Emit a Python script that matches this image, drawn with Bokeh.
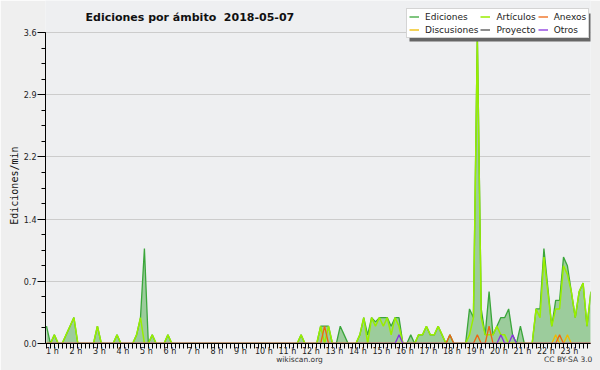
from bokeh.plotting import figure
from bokeh.models import (FixedTicker, Legend, LegendItem, Label, ColumnDataSource,
                          LinearAxis, BoxAnnotation, Title)
from bokeh.embed import file_html
from bokeh.resources import INLINE

# 10-minute bins starting at 01:00 (hours on the x axis)
horas = [1 + i / 6 for i in range(140)]

# one row per hour (6 bins of 10 min)
ediciones = [
    0.2, 0, 0.1, 0, 0, 0.1,          # 1 h
    0.2, 0.3, 0, 0, 0, 0,            # 2 h
    0, 0.2, 0, 0, 0, 0,              # 3 h
    0.1, 0, 0, 0, 0, 0.1,            # 4 h
    0.3, 1.1, 0, 0.1, 0, 0,          # 5 h
    0, 0.1, 0, 0, 0, 0,              # 6 h
    0, 0, 0, 0, 0, 0,                # 7 h
    0, 0, 0, 0, 0, 0,                # 8 h
    0, 0, 0, 0, 0, 0,                # 9 h
    0, 0, 0, 0, 0, 0,                # 10 h
    0, 0, 0, 0, 0, 0.1,              # 11 h
    0, 0, 0, 0, 0.2, 0.2,            # 12 h
    0.2, 0, 0, 0.2, 0.1, 0,          # 13 h
    0, 0, 0.1, 0.3, 0.1, 0.3,        # 14 h
    0.25, 0.3, 0.3, 0.3, 0.2, 0.3,   # 15 h
    0.3, 0, 0, 0.1, 0, 0.1,          # 16 h
    0.1, 0.2, 0.1, 0.1, 0.2, 0.1,    # 17 h
    0, 0.1, 0, 0, 0, 0,              # 18 h
    0.4, 0.3, 3.6, 0.4, 0.1, 0.6,    # 19 h
    0.1, 0.2, 0.3, 0.3, 0.4, 0.1,    # 20 h
    0, 0.2, 0, 0, 0, 0.4,            # 21 h
    0.4, 1.1, 0.65, 0.2, 0.5, 0.5,   # 22 h
    1.0, 0.9, 0.6, 0.3, 0.6, 0.7,    # 23 h
    0.2, 0.6,                        # 24 h
]
articulos = [
    0, 0, 0.1, 0, 0, 0.1,
    0.2, 0.3, 0, 0, 0, 0,
    0, 0.2, 0, 0, 0, 0,
    0.1, 0, 0, 0, 0, 0.1,
    0.3, 0, 0, 0.1, 0, 0,
    0, 0.1, 0, 0, 0, 0,
    0, 0, 0, 0, 0, 0,
    0, 0, 0, 0, 0, 0,
    0, 0, 0, 0, 0, 0,
    0, 0, 0, 0, 0, 0,
    0, 0, 0, 0, 0, 0.1,
    0, 0, 0, 0, 0.2, 0,
    0.2, 0, 0, 0, 0, 0,
    0, 0, 0.1, 0.3, 0, 0.3,
    0.2, 0.3, 0.2, 0.3, 0.1, 0.3,
    0.2, 0, 0, 0, 0, 0.1,
    0.1, 0.2, 0.1, 0.1, 0.2, 0.1,
    0, 0, 0, 0, 0, 0,
    0.1, 0.3, 3.5, 0.3, 0.1, 0.1,
    0.1, 0.2, 0.1, 0.1, 0, 0,
    0, 0, 0, 0, 0, 0.4,
    0.3, 1.0, 0.6, 0.2, 0.4, 0.4,
    0.9, 0.8, 0.6, 0.3, 0.6, 0.7,
    0.2, 0.6,
]
discusiones = [
    0, 0, 0, 0, 0, 0,
    0, 0, 0, 0, 0, 0,
    0, 0, 0, 0, 0, 0,
    0, 0, 0, 0, 0, 0,
    0, 0, 0, 0, 0, 0,
    0, 0, 0, 0, 0, 0,
    0, 0, 0, 0, 0, 0,
    0, 0, 0, 0, 0, 0,
    0, 0, 0, 0, 0, 0,
    0, 0, 0, 0, 0, 0,
    0, 0, 0, 0, 0, 0,
    0, 0, 0, 0, 0, 0,
    0, 0, 0, 0, 0, 0,
    0, 0, 0, 0, 0, 0,
    0, 0, 0, 0, 0, 0,
    0, 0, 0, 0, 0, 0,
    0, 0, 0, 0, 0, 0,
    0, 0, 0, 0, 0, 0,
    0, 0, 0, 0, 0, 0,
    0, 0, 0, 0, 0, 0,
    0, 0, 0, 0, 0, 0,
    0, 0, 0, 0, 0.1, 0,
    0, 0.1, 0, 0, 0, 0,
    0, 0,
]
anexos = [
    0, 0, 0, 0, 0, 0,
    0, 0, 0, 0, 0, 0,
    0, 0, 0, 0, 0, 0,
    0, 0, 0, 0, 0, 0,
    0, 0, 0, 0, 0, 0,
    0, 0, 0, 0, 0, 0,
    0, 0, 0, 0, 0, 0,
    0, 0, 0, 0, 0, 0,
    0, 0, 0, 0, 0, 0,
    0, 0, 0, 0, 0, 0,
    0, 0, 0, 0, 0, 0,
    0, 0, 0, 0, 0, 0.2,
    0, 0, 0, 0, 0, 0,
    0, 0, 0, 0, 0, 0,
    0, 0, 0, 0, 0, 0,
    0, 0, 0, 0, 0, 0,
    0, 0, 0, 0, 0, 0,
    0, 0.1, 0, 0, 0, 0,
    0, 0, 0.1, 0, 0, 0.2,
    0, 0, 0, 0, 0, 0,
    0, 0, 0, 0, 0, 0,
    0, 0, 0, 0, 0, 0.1,
    0, 0, 0, 0, 0, 0,
    0, 0,
]
proyecto = [
    0, 0, 0, 0, 0, 0,
    0, 0, 0, 0, 0, 0,
    0, 0, 0, 0, 0, 0,
    0, 0, 0, 0, 0, 0,
    0, 0, 0, 0, 0, 0,
    0, 0, 0, 0, 0, 0,
    0, 0, 0, 0, 0, 0,
    0, 0, 0, 0, 0, 0,
    0, 0, 0, 0, 0, 0,
    0, 0, 0, 0, 0, 0,
    0, 0, 0, 0, 0, 0,
    0, 0, 0, 0, 0, 0,
    0, 0, 0, 0, 0, 0,
    0, 0, 0, 0, 0, 0,
    0, 0, 0, 0, 0, 0,
    0, 0, 0, 0, 0, 0,
    0, 0, 0, 0, 0, 0,
    0, 0, 0, 0, 0, 0,
    0, 0, 0, 0, 0, 0,
    0, 0, 0, 0, 0, 0,
    0, 0, 0, 0, 0, 0,
    0, 0, 0, 0, 0, 0,
    0, 0, 0, 0, 0, 0,
    0, 0,
]
otros = [
    0, 0, 0, 0, 0, 0,
    0, 0, 0, 0, 0, 0,
    0, 0, 0, 0, 0, 0,
    0, 0, 0, 0, 0, 0,
    0, 0, 0, 0, 0, 0,
    0, 0, 0, 0, 0, 0,
    0, 0, 0, 0, 0, 0,
    0, 0, 0, 0, 0, 0,
    0, 0, 0, 0, 0, 0,
    0, 0, 0, 0, 0, 0,
    0, 0, 0, 0, 0, 0,
    0, 0, 0, 0, 0, 0,
    0, 0, 0, 0, 0, 0,
    0, 0, 0, 0, 0, 0,
    0, 0, 0, 0, 0, 0,
    0.1, 0, 0, 0, 0, 0,
    0, 0, 0, 0, 0, 0,
    0, 0, 0, 0, 0, 0,
    0, 0, 0, 0, 0, 0,
    0, 0, 0.1, 0, 0, 0.1,
    0, 0, 0, 0, 0, 0,
    0, 0, 0, 0, 0, 0,
    0, 0, 0, 0, 0, 0,
    0, 0,
]

hour_ticks = [1, 2, 3, 4, 5, 6, 7, 8, 9, 10, 11, 12, 13, 14, 15, 16, 17, 18, 19, 20, 21, 22, 23]
hour_labels = ["1 h", "2 h", "3 h", "4 h", "5 h", "6 h", "7 h", "8 h", "9 h", "10 h", "11 h", "12 h",
               "13 h", "14 h", "15 h", "16 h", "17 h", "18 h", "19 h", "20 h", "21 h", "22 h", "23 h"]
y_ticks = [0, 0.72, 1.44, 2.16, 2.88, 3.6]
y_labels = ["0.0", "0.7", "1.4", "2.2", "2.9", "3.6"]
y_minor = [0, 0.18, 0.36, 0.54, 0.72, 0.9, 1.08, 1.26, 1.44, 1.62, 1.8, 1.98, 2.16, 2.34,
           2.52, 2.7, 2.88, 3.06, 3.24, 3.42, 3.6]
titulo = "Ediciones por ámbito\u00a0 2018-05-07"
pie_textos = ["wikiscan.org", "CC BY-SA 3.0"]
pie_pos = [11.766, 23.2]

FONT = "DejaVu Sans"

src = ColumnDataSource(dict(t=horas, ed=ediciones, art=articulos, dis=discusiones,
                            anx=anexos, pro=proyecto, otr=otros))

FW, FH = 545, 343          # frame size (frame starts at the very top)
Y36 = 32                   # pixel row of the 3.6 gridline
YMAX = 3.6 * FH / (FH - Y36)
X0 = 1 - 1 / 23.5
X1 = X0 + FW / 23.5

p = figure(frame_width=FW, frame_height=FH, output_backend="svg", toolbar_location=None,
           title=None, x_range=(X0, X1), y_range=(0, YMAX),
           min_border_left=45, min_border_right=10, min_border_top=0, min_border_bottom=27,
           background_fill_color="#eeeff1", border_fill_color="#efefef",
           outline_line_color=None)

p.varea(x="t", y1=0, y2="ed", source=src, fill_color="#9ccc9c", fill_alpha=1.0)
r_pro = p.line("t", "pro", source=src, line_color="#444444", line_width=1.2)
r_ed = p.line("t", "ed", source=src, line_color="#3aa63a", line_width=1.3)
r_art = p.line("t", "art", source=src, line_color="#99ee00", line_width=1.5)
r_dis = p.line("t", "dis", source=src, line_color="#eebb00", line_width=1.3)
r_anx = p.line("t", "anx", source=src, line_color="#ee6611", line_width=1.3)
r_otr = p.line("t", "otr", source=src, line_color="#8833dd", line_width=1.3)

# grid
p.xgrid.visible = False
p.ygrid.ticker = FixedTicker(ticks=y_ticks)
p.ygrid.grid_line_color = "#cccccc"
p.ygrid.grid_line_width = 1

# x axis
xa = p.xaxis[0]
xa.ticker = FixedTicker(ticks=[h + 0.25 for h in hour_ticks], minor_ticks=horas)
xa.major_label_overrides = {h + 0.25: lbl for h, lbl in zip(hour_ticks, hour_labels)}
xa.major_tick_out = 0
xa.major_tick_in = 0
xa.minor_tick_out = 5
xa.minor_tick_in = 0
xa.minor_tick_line_color = "black"
xa.axis_line_color = "black"
xa.major_label_text_font = FONT
xa.major_label_text_font_size = "8px"
xa.major_label_text_color = "#222222"
xa.major_label_standoff = -2
xa.axis_label_standoff = 0

# footer texts as a second, bare axis
xa2 = LinearAxis(ticker=FixedTicker(ticks=pie_pos),
                 major_label_overrides=dict(zip(pie_pos, pie_textos)))
xa2.axis_line_color = None
xa2.major_tick_line_color = None
xa2.minor_tick_line_color = None
xa2.major_tick_out = 0
xa2.major_tick_in = 0
xa2.minor_tick_out = 0
xa2.minor_tick_in = 0
xa2.major_label_standoff = -4
xa2.axis_label_standoff = 0
xa2.major_label_text_font = FONT
xa2.major_label_text_font_size = "7.5px"
xa2.major_label_text_color = "#333333"
p.add_layout(xa2, "below")

# y axis
ya = p.yaxis[0]
ya.ticker = FixedTicker(ticks=y_ticks, minor_ticks=y_minor)
ya.major_label_overrides = dict(zip(y_ticks, y_labels))
ya.bounds = (0, 3.6)
ya.major_tick_out = 8
ya.major_tick_in = 0
ya.minor_tick_out = 4
ya.minor_tick_in = 0
ya.axis_line_color = "black"
ya.major_label_text_font = FONT
ya.major_label_text_font_size = "8px"
ya.major_label_text_color = "#222222"
ya.major_label_standoff = 1
ya.axis_label_standoff = 0

# y axis title, placed alongside the 0 .. 3.6 part of the frame
p.add_layout(Title(text="Ediciones/min", align="right", offset=146, standoff=2,
                   text_font="DejaVu Sans Mono", text_font_size="10px",
                   text_font_style="normal", text_color="#111111"), "left")

# chart title inside the (extended) frame
p.add_layout(Label(x=40, y=FH - 17, x_units="screen", y_units="screen", text=titulo,
                   text_align="left", text_baseline="middle", text_font=FONT,
                   text_font_size="11px", text_font_style="bold", text_color="#111111"))

# legend with drop shadow
LX, LW, LH = 361, 182, 28
LY = FH - 10 - LH
p.add_layout(BoxAnnotation(left=LX + 3, right=LX + LW + 3, bottom=LY - 3, top=LY + LH - 3,
                           left_units="screen", right_units="screen",
                           bottom_units="screen", top_units="screen",
                           fill_color="#666666", fill_alpha=1.0, line_color=None))
legend = Legend(items=[
    LegendItem(label="Ediciones", renderers=[r_ed]),
    LegendItem(label="Discusiones", renderers=[r_dis]),
    LegendItem(label="Artículos", renderers=[r_art]),
    LegendItem(label="Proyecto", renderers=[r_pro]),
    LegendItem(label="Anexos", renderers=[r_anx]),
    LegendItem(label="Otros", renderers=[r_otr]),
], location=(LX, LY), orientation="vertical", nrows=2)
legend.label_text_font = FONT
legend.label_text_font_size = "9px"
legend.label_text_color = "#222222"
legend.label_height = 11
legend.glyph_height = 11
legend.glyph_width = 10
legend.label_standoff = 6
legend.spacing = 2
legend.padding = 2
legend.margin = 0
legend.border_line_color = "#aaaaaa"
legend.background_fill_color = "white"
legend.background_fill_alpha = 1.0
p.add_layout(legend)

open("out.html", "w").write(file_html(p, INLINE))
